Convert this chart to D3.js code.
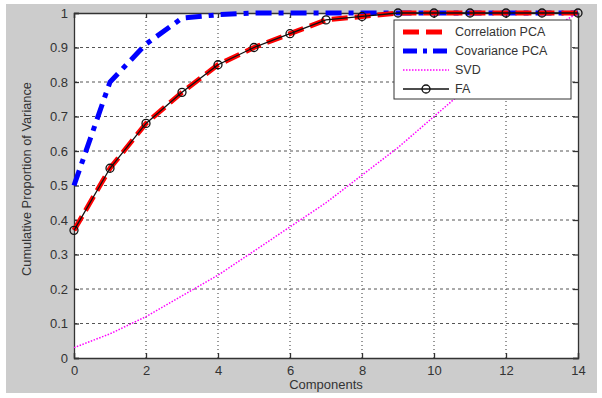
<!DOCTYPE html>
<html>
<head>
<meta charset="utf-8">
<script src="https://cdn.jsdelivr.net/npm/d3@7"></script>
<style>
  body { margin: 0; background: #fff; }
  text { font-family: "Liberation Sans", Arial, sans-serif; }
</style>
</head>
<body>
<div id="chart"></div>
<script>
// data
const components = [0, 1, 2, 3, 4, 5, 6, 7, 8, 9, 10, 11, 12, 13, 14];
const correlationPCA = [0.37, 0.55, 0.68, 0.77, 0.85, 0.90, 0.94, 0.98, 0.99, 1.0, 1.0, 1.0, 1.0, 1.0, 1.0];
const covariancePCA = [0.50, 0.80, 0.91, 0.985, 0.995, 1.0, 1.0, 1.0, 1.0, 1.0, 1.0, 1.0, 1.0, 1.0, 1.0];
const svd = [0.03, 0.07, 0.12, 0.18, 0.24, 0.31, 0.38, 0.45, 0.53, 0.61, 0.70, 0.79, 0.87, 0.94, 1.0];
const fa = [0.37, 0.55, 0.68, 0.77, 0.85, 0.90, 0.94, 0.98, 0.99, 1.0, 1.0, 1.0, 1.0, 1.0, 1.0];
const xTicks = [0, 2, 4, 6, 8, 10, 12, 14];
const yTicks = [0, 0.1, 0.2, 0.3, 0.4, 0.5, 0.6, 0.7, 0.8, 0.9, 1];
const legendLabels = ['Correlation PCA', 'Covariance PCA', 'SVD', 'FA'];

const width = 602, height = 398;
const margin = { top: 13, right: 24, bottom: 40, left: 74 };
const plotW = width - margin.left - margin.right;
const plotH = height - margin.top - margin.bottom;

const svg = d3.select('#chart').append('svg')
  .attr('width', width)
  .attr('height', height);

// gray figure background
svg.append('rect')
  .attr('x', 6).attr('y', 4)
  .attr('width', 591).attr('height', 389)
  .attr('fill', '#cccccc');

const chart = svg.append('g')
  .attr('transform', `translate(${margin.left},${margin.top})`);

const x = d3.scaleLinear().domain([0, 14]).range([0, plotW]);
const y = d3.scaleLinear().domain([0, 1]).range([plotH, 0]);

chart.append('rect')
  .attr('width', plotW).attr('height', plotH)
  .attr('fill', '#fff');

// dotted grid
chart.append('g').selectAll('line')
  .data(xTicks.slice(1, -1))
  .enter().append('line')
  .attr('x1', d => x(d)).attr('x2', d => x(d))
  .attr('y1', 0).attr('y2', plotH)
  .attr('stroke', '#333').attr('stroke-width', 1)
  .attr('stroke-dasharray', '1,3');
chart.append('g').selectAll('line')
  .data(yTicks.slice(1, -1))
  .enter().append('line')
  .attr('x1', 0).attr('x2', plotW)
  .attr('y1', d => y(d)).attr('y2', d => y(d))
  .attr('stroke', '#555').attr('stroke-width', 1)
  .attr('stroke-dasharray', '3,3');

// axes, MATLAB style ticks pointing inward
const tickColor = '#333';
const bottomAxis = chart.append('g')
  .attr('transform', `translate(0,${plotH})`)
  .call(d3.axisBottom(x).tickValues(xTicks).tickSize(-5).tickPadding(8).tickFormat(d3.format('d')));
const leftAxis = chart.append('g')
  .call(d3.axisLeft(y).tickValues(yTicks).tickSize(-5).tickPadding(6).tickFormat(d => d === 0 || d === 1 ? d : d3.format('.1f')(d)));
const topAxis = chart.append('g')
  .call(d3.axisTop(x).tickValues(xTicks).tickSize(-5).tickFormat(''));
const rightAxis = chart.append('g')
  .attr('transform', `translate(${plotW},0)`)
  .call(d3.axisRight(y).tickValues(yTicks).tickSize(-5).tickFormat(''));

[bottomAxis, leftAxis, topAxis, rightAxis].forEach(a => {
  a.select('.domain').attr('stroke', tickColor).attr('stroke-width', 1.3);
  a.selectAll('.tick line').attr('stroke', tickColor).attr('stroke-width', 1.3);
  a.selectAll('text').attr('fill', '#333').style('font-size', '13px')
    .style('font-family', '"Liberation Sans", Arial, sans-serif');
});

// axis labels
svg.append('text')
  .attr('x', margin.left + plotW / 2).attr('y', 389)
  .attr('text-anchor', 'middle')
  .attr('fill', '#333').style('font-size', '13px')
  .text('Components');
svg.append('text')
  .attr('transform', 'translate(31,179) rotate(-90)')
  .attr('text-anchor', 'middle')
  .attr('fill', '#333').style('font-size', '12.8px')
  .text('Cumulative Proportion of Variance');

// lines
const line = vals => d3.line()
  .x((d, i) => x(components[i]))
  .y(d => y(d))(vals);

const plot = chart.append('g');
plot.append('path').attr('d', line(svd))
  .attr('fill', 'none').attr('stroke', '#ff00ff').attr('stroke-width', 1.5)
  .attr('stroke-dasharray', '1.5,1.5');
plot.append('path').attr('d', line(covariancePCA))
  .attr('fill', 'none').attr('stroke', '#0000ff').attr('stroke-width', 5)
  .attr('stroke-dasharray', '16,7,5,7');
plot.append('path').attr('d', line(correlationPCA))
  .attr('fill', 'none').attr('stroke', '#ff0000').attr('stroke-width', 5)
  .attr('stroke-dasharray', '16,7');
plot.append('path').attr('d', line(fa))
  .attr('fill', 'none').attr('stroke', '#111').attr('stroke-width', 1.3);
plot.selectAll('circle')
  .data(fa)
  .enter().append('circle')
  .attr('cx', (d, i) => x(components[i]))
  .attr('cy', d => y(d))
  .attr('r', 4)
  .attr('fill', 'none').attr('stroke', '#111').attr('stroke-width', 1.3);

// legend
const legend = svg.append('g').attr('transform', 'translate(394,20)');
legend.append('rect')
  .attr('width', 177).attr('height', 79)
  .attr('fill', '#fff').attr('stroke', '#333').attr('stroke-width', 1);
const styles = [
  { stroke: '#ff0000', w: 5, dash: '16,7' },
  { stroke: '#0000ff', w: 5, dash: '14,6,4,6' },
  { stroke: '#ff00ff', w: 1.5, dash: '1.5,1.5' },
  { stroke: '#111', w: 1.3, dash: null, marker: true }
];
legendLabels.forEach((label, i) => {
  const ly = 12 + i * 19;
  const g = legend.append('g').attr('transform', `translate(0,${ly})`);
  g.append('line')
    .attr('x1', 9).attr('x2', 55)
    .attr('stroke', styles[i].stroke)
    .attr('stroke-width', styles[i].w)
    .attr('stroke-dasharray', styles[i].dash);
  if (styles[i].marker) {
    g.append('circle').attr('cx', 32).attr('r', 4)
      .attr('fill', 'none').attr('stroke', '#111').attr('stroke-width', 1.3);
  }
  g.append('text')
    .attr('x', 61).attr('y', 0).attr('dy', '0.35em')
    .attr('fill', '#333').style('font-size', '12.5px')
    .text(label);
});
</script>
</body>
</html>
